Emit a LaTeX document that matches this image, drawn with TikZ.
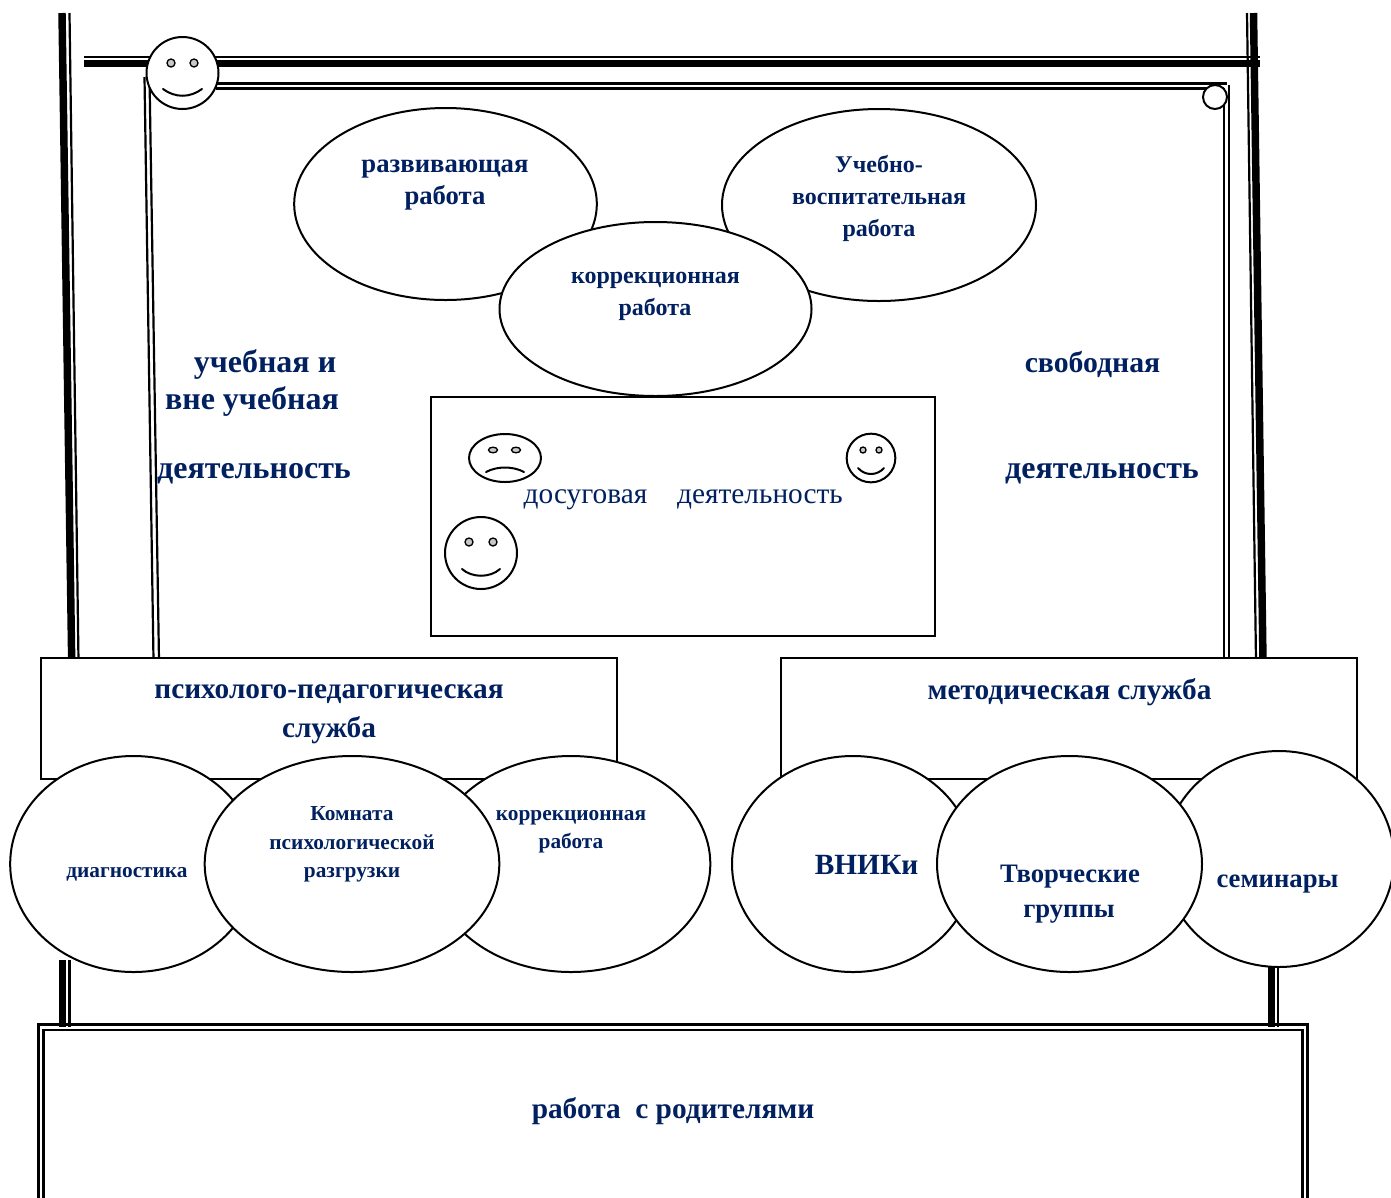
\documentclass[tikz,border=0pt]{standalone}
\usepackage{fontspec}
\setmainfont{Liberation Serif}
\usetikzlibrary{shapes.geometric}
\definecolor{navy}{HTML}{002060}
\definecolor{eyegray}{HTML}{C8C8C8}
\tikzset{
  x=0.75pt, y=-0.75pt,
  thinline/.style={line width=1.65pt, draw=black},
  thickline/.style={line width=5.6pt, draw=black},
  oval/.style={ellipse, draw=black, fill=white, line width=1.5pt, inner sep=0pt, minimum width=#1},
  box/.style={draw=black, fill=white, line width=1.5pt},
  frame/.style={draw=black, line width=1.9pt},
  face/.style={circle, draw=black, fill=white, line width=1.5pt, inner sep=0pt},
  eye/.style={draw=black, fill=eyegray, line width=1pt},
  mouth/.style={draw=black, line width=1.5pt, line cap=round},
  lbl/.style={text=navy, anchor=base, inner sep=0pt, yshift=-0.75pt, font=\bfseries\fontsize{#1}{#1}\selectfont},
  lbl/.default=20pt,
  plain/.style={text=navy, anchor=base, inner sep=0pt, yshift=-0.75pt, font=\fontsize{22pt}{22pt}\selectfont},
}
\begin{document}
\begin{tikzpicture}
\useasboundingbox (0,0) rectangle (1391,1197);
% outer frame lines
\draw[thickline] (62,13) -- (71.7,661);
\draw[thinline] (69.5,13) -- (78.5,661);
\draw[thickline] (1253.5,13) -- (1263,661);
\draw[thinline] (1247,13) -- (1256,661);
\draw[thinline] (84,57) -- (1260,57);
\draw[thickline] (84,63.5) -- (1260,63.5);
% inner frame lines
\draw[thinline] (144.5,77) -- (153.5,660);
\draw[thinline] (149.5,77) -- (159,660);
\draw[thinline] (216,83.5) -- (1227,83.5);
\draw[thinline] (216,88.5) -- (1224,88.5);
\draw[thinline] (1224,88) -- (1224,660);
\draw[thinline] (1229,85) -- (1229,660);
% top smiley and small circle
\node[face, minimum size=54pt] (faceTop) at (182.5,73) {};
\draw[eye] (171,63) circle[radius=4];
\draw[eye] (194,63) circle[radius=4];
\draw[mouth] (163,89) .. controls (175,98) and (190,98) .. (202,89);
\node[face, minimum size=18pt] (corner) at (1215,97) {};
% upper ellipses
\node[oval=227pt, minimum height=144pt] (razv) at (445.5,204) {};
\node[oval=235.5pt, minimum height=144pt] (ucheb) at (879,205) {};
\node[oval=234pt, minimum height=130.5pt] (korr) at (655.5,309) {};
\node[lbl] (tRazv) at (445,171) {развивающая};
\node[lbl] (tRazv2) at (445,203) {работа};
\node[lbl=18pt] (tUch1) at (879,171) {Учебно-};
\node[lbl=18pt] (tUch2) at (879,203) {воспитательная};
\node[lbl=18pt] (tUch3) at (879,235) {работа};
\node[lbl=18pt] (tKor1) at (655.5,282) {коррекционная};
\node[lbl=18pt] (tKor2) at (655,314) {работа};
\node[lbl=24pt] (tL1) at (265,371) {учебная и};
\node[lbl=24pt] (tL2) at (252,408) {вне учебная};
\node[lbl=24pt] (tL3) at (254,477) {деятельность};
\node[lbl=22.3pt] (tR1) at (1092.5,371) {свободная};
\node[lbl=24pt] (tR2) at (1102,477) {деятельность};
% leisure box
\draw[box] (431,397) rectangle (935,636);
\node[plain] (tD1) at (585.5,502) {досуговая};
\node[plain] (tD2) at (760,502) {деятельность};
\node[ellipse, draw=black, fill=white, line width=1.5pt, inner sep=0pt, minimum width=54pt, minimum height=36pt] (faceSad) at (505,458) {};
\draw[eye] (493,450) ellipse[x radius=4.5, y radius=2.8];
\draw[eye] (516,450) ellipse[x radius=4.5, y radius=2.8];
\draw[mouth] (486,472) .. controls (497,466) and (513,466) .. (524,472);
\node[face, minimum size=36.5pt] (faceSm) at (871,458) {};
\draw[eye] (863,450) circle[radius=3];
\draw[eye] (879,450) circle[radius=3];
\draw[mouth] (858,468) .. controls (865,476) and (877,476) .. (884,468);
\node[face, minimum size=54pt] (faceBig) at (481,553) {};
\draw[eye] (469,542) circle[radius=4];
\draw[eye] (493,542) circle[radius=4];
\draw[mouth] (462,569) .. controls (472,578) and (490,578) .. (500,569);
% service boxes
\draw[box] (41,658) rectangle (617,779);
\draw[box] (781,658) rectangle (1357,779);
\node[lbl=22pt] (tP1) at (329,697) {психолого-педагогическая};
\node[lbl=22pt] (tP2) at (329,736) {служба};
\node[lbl=22pt] (tM) at (1069.5,698) {методическая служба};
% stubs
\draw[thickline] (62.5,960) -- (62.5,1027);
\draw[thinline] (69.5,960) -- (69.5,1027);
\draw[thickline] (1271.5,966) -- (1271.5,1027);
\draw[thinline] (1278,966) -- (1278,1027);
% lower ellipses
\node[oval=185pt, minimum height=162pt] (diag) at (133.5,864) {};
\node[oval=209pt, minimum height=162pt] (corr) at (571,864) {};
\node[oval=221pt, minimum height=162pt] (room) at (352,864) {};
\node[oval=181.5pt, minimum height=162pt] (vnik) at (853,864) {};
\node[oval=172.5pt, minimum height=162pt] (sem) at (1279,859) {};
\node[oval=198.75pt, minimum height=162pt] (tvor) at (1069.5,864) {};
\node[lbl=16pt] (tDiag) at (127,876) {диагностика};
\node[lbl=16pt] (tRoom1) at (352,819) {Комната};
\node[lbl=16pt] (tRoom2) at (352,848) {психологической};
\node[lbl=16pt] (tRoom3) at (352,876) {разгрузки};
\node[lbl=16pt] (tCorr1) at (571,819) {коррекционная};
\node[lbl=16pt] (tCorr2) at (571,847) {работа};
\node[lbl=22pt] (tVnik) at (866.5,873) {ВНИКи};
\node[lbl] (tTv1) at (1070,881) {Творческие};
\node[lbl] (tTv2) at (1069,916) {группы};
\node[lbl] (tSem) at (1277.5,886) {семинары};
% parents frame
\draw[frame] (38.5,1240) -- (38.5,1024.5) -- (1307.5,1024.5) -- (1307.5,1240);
\draw[frame] (43.5,1240) -- (43.5,1030) -- (1302.5,1030) -- (1302.5,1240);
\node[lbl=22pt] (tParents) at (673,1117) {работа\ \ с родителями};
\end{tikzpicture}
\end{document}
